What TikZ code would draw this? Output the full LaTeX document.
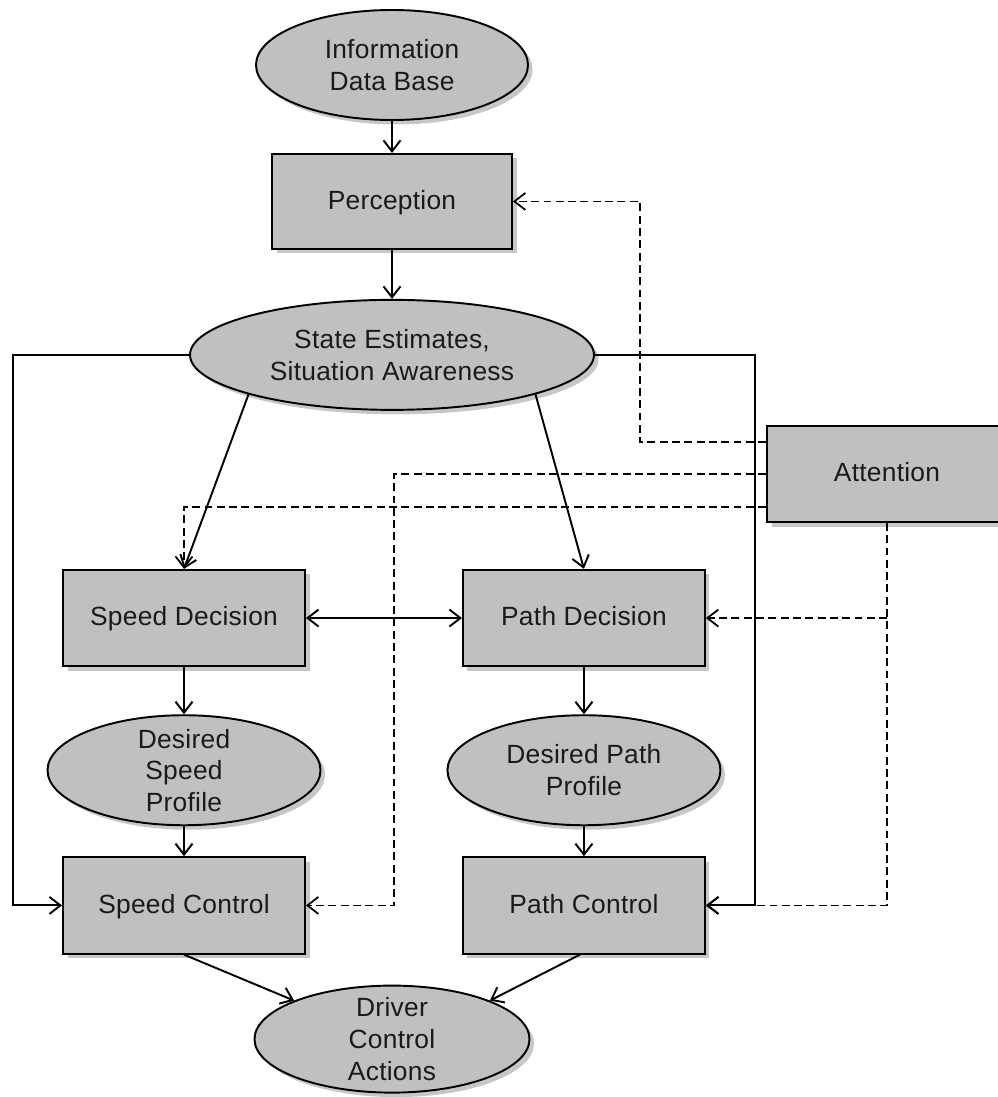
\documentclass[tikz,border=0pt]{standalone}
\usepackage{fontspec}
\setmainfont{Liberation Sans}[LetterSpace=1.0]
\usepackage{xcolor}
\usepackage{tikz}
\usetikzlibrary{arrows.meta,positioning,shapes.geometric,shadows,calc}
\definecolor{boxgray}{HTML}{C0C0C0}
\definecolor{inkgray}{HTML}{1A1A1A}

\begin{document}
\begin{tikzpicture}[
  font=\fontsize{15}{18}\selectfont,
  every node/.style={text=inkgray},
  shade/.style={drop shadow={shadow xshift=0.09cm, shadow yshift=-0.09cm, fill=black, opacity=0.22}},
  block/.style={draw=black, line width=1.1pt, fill=boxgray, shade, align=center,
                minimum width=4.84cm, minimum height=1.93cm, inner sep=0pt, text depth=0.22em},
  oval/.style={ellipse, draw=black, line width=1.1pt, fill=boxgray, shade, align=center,
               minimum width=5.46cm, minimum height=2.2cm, inner sep=-8pt},
  arrow/.style={-{Straight Barb[length=2.2mm, width=3.4mm]}, line width=1.1pt, draw=black},
  dual/.style={{Straight Barb[length=2.2mm, width=3.4mm]}-{Straight Barb[length=2.2mm, width=3.4mm]}, line width=1.1pt, draw=black},
  dashline/.style={arrow, line width=1pt, dash pattern=on 4.5pt off 2.5pt},
  node distance=0.64cm and 3.12cm
]
\useasboundingbox (0,0) rectangle (19.94,-21.94);
\node[oval, minimum width=5.44cm] (info) at (7.84,-1.3) {Information\\ Data Base};
\node[block, minimum width=4.8cm, minimum height=1.9cm, below=0.64cm of info] (perc) {Perception};
\node[oval, minimum width=8.08cm, below=0.98cm of perc] (state) {State Estimates,\\ Situation Awareness};
\node[block, below=3.16cm of state, xshift=-4.16cm] (spdec) {Speed Decision};
\node[block, right=of spdec] (pathdec) {Path Decision};
\node[oval, below=0.94cm of spdec] (spprof) {Desired\\ Speed\\ Profile};
\node[oval, below=0.94cm of pathdec] (pathprof) {Desired Path\\ Profile};
\node[block, below=0.6cm of spprof] (spctl) {Speed Control};
\node[block, below=0.6cm of pathprof] (pathctl) {Path Control};
\node[oval, minimum width=5.5cm, minimum height=2.14cm, below=0.6cm of spctl, xshift=4.16cm] (driver) {Driver\\ Control\\ Actions};
\node[block, minimum width=4.8cm, minimum height=1.92cm] (attn) at (17.74,-9.48) {Attention};
\coordinate (attnA) at ([yshift=0.64cm]attn.west);
\coordinate (attnB) at ([yshift=-0.66cm]attn.west);
\coordinate (attnC) at (attn.south |- pathdec.east);
\draw[arrow] (info) -- (perc);
\draw[arrow] (perc) -- (state);
\draw[arrow] (state.south west) -- (spdec.north);
\draw[arrow] (state.south east) -- (pathdec.north);
\draw[dual] (spdec) -- (pathdec);
\draw[arrow] (spdec) -- (spprof);
\draw[arrow] (spprof) -- (spctl);
\draw[arrow] (pathdec) -- (pathprof);
\draw[arrow] (pathprof) -- (pathctl);
\draw[arrow] (spctl.south) -- (driver.north west);
\draw[arrow] ([xshift=-0.08cm]pathctl.south) -- (driver.north east);
\draw[arrow] (state.west) -- ++(-3.52,0) |- (spctl.west);
\draw[arrow] (state.east) -- ++(3.2,0) |- (pathctl.east);
\draw[dashline] (attnA) -| ([xshift=2.54cm]perc.east) -- (perc.east);
\draw[dashline] (attn.west) -| ([xshift=1.76cm]spctl.east) -- (spctl.east);
\draw[dashline] (attnB) -| (spdec.north);
\draw[dashline] (attn.south) |- (pathctl.east);
\draw[dashline] (attnC) -- (pathdec.east);
\end{tikzpicture}
\end{document}
